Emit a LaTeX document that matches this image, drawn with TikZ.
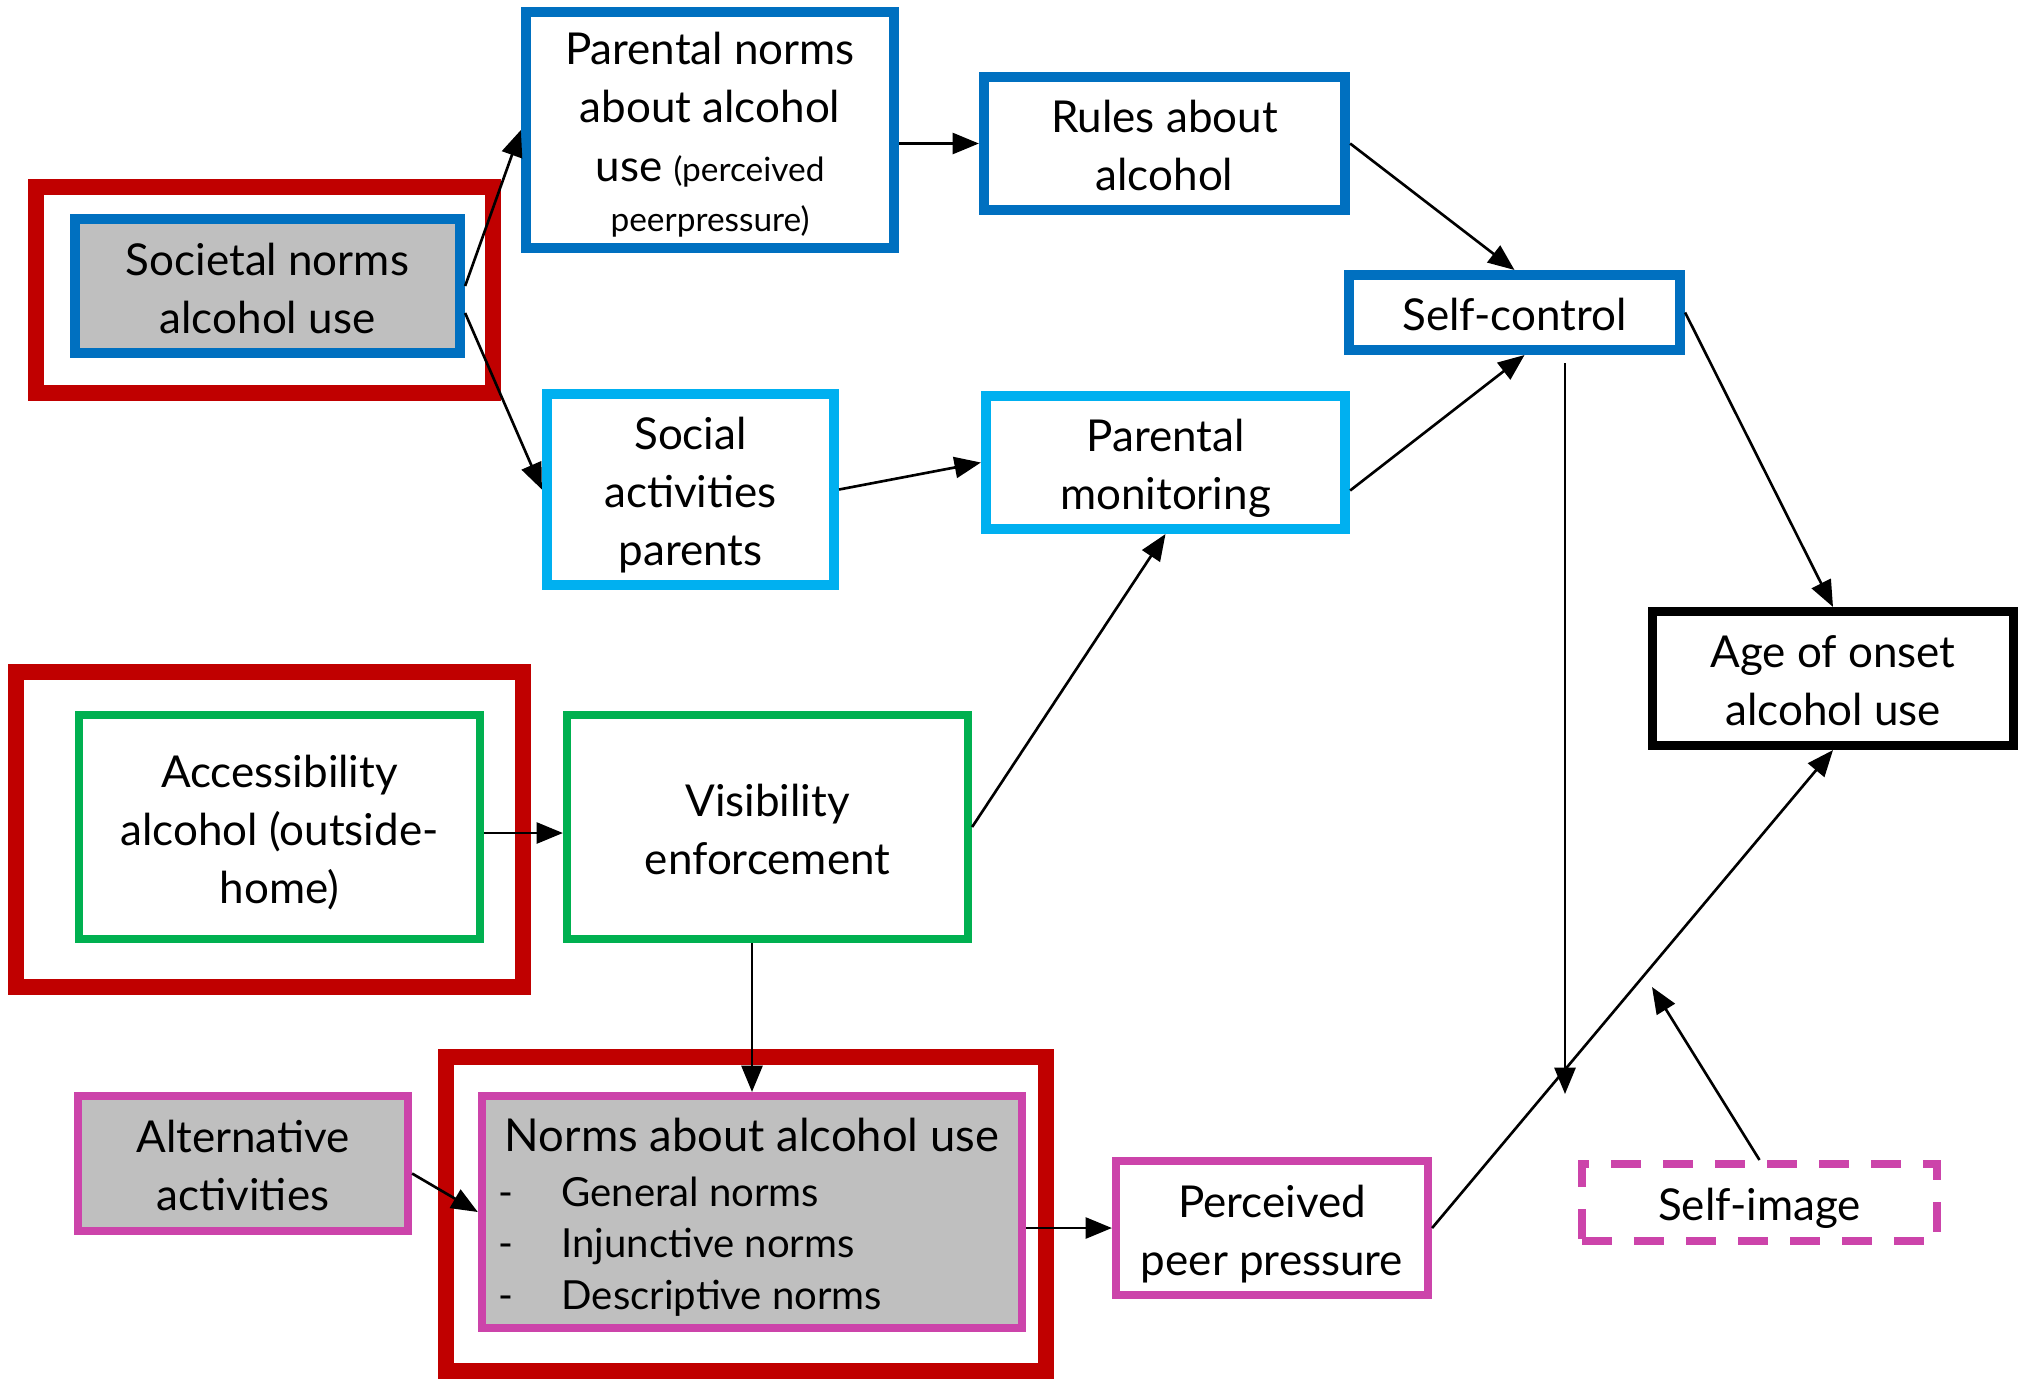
\documentclass[tikz,border=0pt]{standalone}
\usepackage{fontspec}
\setmainfont{Lato}
\usetikzlibrary{arrows.meta,calc}
\definecolor{cblue}{HTML}{0070C0}
\definecolor{clight}{HTML}{00B0F0}
\definecolor{cgreen}{HTML}{00B050}
\definecolor{cred}{HTML}{C00000}
\definecolor{cpink}{HTML}{CC44AA}
\definecolor{cgray}{HTML}{BFBFBF}
\newcommand\tst{\rule{0pt}{14pt}}
\newcommand\lstdash{\makebox[16.1pt][l]{\hspace{-1.8pt}-}}
\begin{document}
\begin{tikzpicture}[x=0.01cm,y=-0.01cm,
  box/.style={draw, rectangle, inner sep=0pt, align=center, font=\fontsize{12.5pt}{16.5pt}\selectfont,
    execute at end node={\rule[-3.5pt]{0pt}{0pt}}},
  bluebox/.style={box, draw=cblue, line width=2.85pt},
  lightbox/.style={box, draw=clight, line width=2.85pt},
  greenbox/.style={box, draw=cgreen, line width=2.28pt},
  pinkbox/.style={box, draw=cpink, line width=2.28pt},
  blackbox/.style={box, draw=black, line width=2.56pt},
  redframe/.style={draw=cred, line width=4.4pt, rectangle, inner sep=0pt},
  arr/.style={-{Triangle[length=7.5pt,width=6pt]}, line width=0.75pt, black}
]
\useasboundingbox (0,0) rectangle (2030,1378);
% red frames
\node[redframe, minimum width=4.57cm, minimum height=2.06cm] (F1) at (264.5,290) {};
\node[redframe, minimum width=5.07cm, minimum height=3.15cm] (F2) at (269.5,829.5) {};
\node[redframe, minimum width=6.00cm, minimum height=3.14cm] (F3) at (746,1214) {};
% boxes
\node[bluebox, fill=cgray, minimum width=3.85cm, minimum height=1.34cm] (SN) at (267.5,286) {\tst Societal norms\\alcohol use};
\node[bluebox, minimum width=3.68cm, minimum height=2.36cm] (PN) at (710,130) {\tst Parental norms\\about alcohol\\use {\fontsize{9.5pt}{14pt}\selectfont (perceived}\\[-2pt]{\fontsize{9.5pt}{14pt}\selectfont peerpressure)}};
\node[bluebox, minimum width=3.61cm, minimum height=1.33cm] (RA) at (1164.5,143.5) {\tst Rules about\\alcohol};
\node[bluebox, minimum width=3.31cm, minimum height=0.75cm] (SC) at (1514.5,312.5) {\tst Self-control};
\node[lightbox, minimum width=2.87cm, minimum height=1.91cm] (SA) at (690.5,489.5) {\tst Social\\activities\\parents};
\node[lightbox, minimum width=3.59cm, minimum height=1.33cm] (PM) at (1165.5,462.5) {\tst Parental\\monitoring};
\node[blackbox, minimum width=3.61cm, minimum height=1.34cm] (AO) at (1833,678.5) {\tst Age of onset\\alcohol use};
\node[greenbox, minimum width=4.01cm, minimum height=2.24cm] (AC) at (279.5,827) {\tst Accessibility\\alcohol (outside-\\home)};
\node[greenbox, minimum width=4.01cm, minimum height=2.24cm] (VE) at (767.5,827) {\tst Visibility\\enforcement};
\node[pinkbox, fill=cgray, minimum width=5.40cm, minimum height=2.32cm, align=left] (NA) at (752,1212) {{\fontsize{12.9pt}{16.5pt}\selectfont\tst Norms about alcohol use}\\[-1pt]
{\fontsize{11.4pt}{14.5pt}\selectfont\lstdash General norms}\\[-1.8pt]
{\fontsize{11.4pt}{14.5pt}\selectfont\lstdash Injunctive norms}\\[-1.8pt]
{\fontsize{11.4pt}{14.5pt}\selectfont\lstdash Descriptive norms}};
\node[pinkbox, fill=cgray, minimum width=3.30cm, minimum height=1.35cm] (AA) at (243,1163.5) {\tst Alternative\\activities};
\node[pinkbox, minimum width=3.12cm, minimum height=1.34cm] (PP) at (1272,1228) {\tst Perceived\\peer pressure};
\node[pinkbox, dash pattern=on 8.5pt off 6.3pt, minimum width=3.55cm, minimum height=0.77cm] (SI) at (1759.5,1202.5) {\tst Self-image};
% free ends
\coordinate (scTop) at (1565,363);
\coordinate (scEnd) at (1565,1094);
\coordinate (siEnd) at (1652,987);
% arrows
\draw[arr] (SN.east) -- (PN.west);
\draw[arr] ($(SN.east)+(0,27)$) -- (SA.west);
\draw[arr] (PN.east |- RA.west) -- (RA.west);
\draw[arr] (RA.east) -- (SC.north);
\draw[arr] ($(PM.east)+(0,28)$) -- ($(SC.south)+(10,0)$);
\draw[arr] (SC.east) -- (AO.north);
\draw[arr] (SA.east) -- (PM.west);
\draw[arr] ($(AC.east)+(0,6)$) -- ($(VE.west)+(0,6)$);
\draw[arr] (VE.east) -- (PM.south);
\draw[arr] (NA.north |- VE.south) -- (NA.north);
\draw[arr] ($(AA.east)+(0,10)$) -- (NA.west);
\draw[arr] (NA.east |- PP.west) -- (PP.west);
\draw[arr] (PP.east) -- (AO.south);
\draw[arr] (scTop) -- (scEnd);
\draw[arr] (SI.north) -- (siEnd);
\end{tikzpicture}
\end{document}
